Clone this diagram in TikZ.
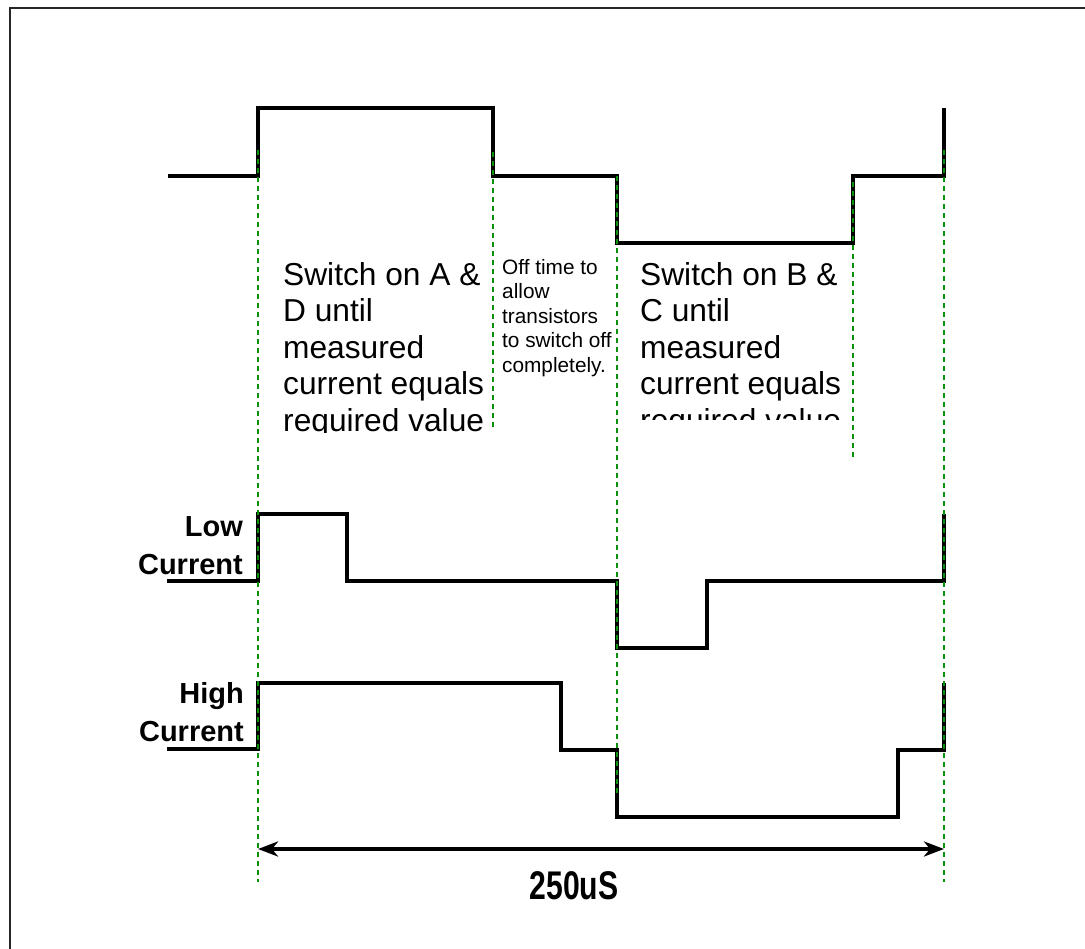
\documentclass[tikz,border=0pt]{standalone}
\usepackage{fontspec}
\setmainfont{Liberation Sans}
\usetikzlibrary{arrows.meta}
\definecolor{guidegreen}{RGB}{10,145,10}
\tikzset{
  wave/.style={line width=3.6pt, line join=miter, line cap=butt},
  wavethin/.style={line width=3.2pt, line join=miter, line cap=butt},
  guide/.style={guidegreen, line width=1.6pt, dash pattern=on 5pt off 4pt},
  bigtext/.style={inner sep=0pt, anchor=north west, align=left, font=\fontsize{31.7}{36.6}\selectfont},
  smalltext/.style={inner sep=0pt, anchor=north west, align=left, font=\fontsize{20.8}{24.5}\selectfont},
  sidelabel/.style={inner sep=0pt, anchor=north east, align=right, font=\fontsize{29}{38.5}\selectfont\bfseries},
  span/.style={line width=3.6pt, {Stealth[length=20pt,width=15pt,inset=6pt]}-{Stealth[length=20pt,width=15pt,inset=6pt]}}
}
\begin{document}
\begin{tikzpicture}[x=1pt,y=-1pt]
\useasboundingbox (0,0) rectangle (1085,949);
% frame (only top and left edges fall inside the picture)
\draw[line width=2pt, black!85] (10,8) rectangle (1120,990);

% top waveform
\draw[wave] (168,176) -- (258,176) -- (258,108) -- (493,108) -- (493,176) -- (617,176)
  -- (617,243) -- (853,243) -- (853,176) -- (944,176) -- (944,108);
% low current
\draw[wavethin] (167,581) -- (258,581) -- (258,514) -- (347,514) -- (347,581) -- (617,581)
  -- (617,648) -- (707,648) -- (707,581) -- (944,581) -- (944,514);
% high current
\draw[wavethin] (167,749) -- (258,749) -- (258,683) -- (561,683) -- (561,750) -- (617,750)
  -- (617,817) -- (898,817) -- (898,750) -- (944,750) -- (944,683);

% guide lines
\coordinate (g1t) at (258,150); \coordinate (g1b) at (258,882);
\coordinate (g2t) at (493,152); \coordinate (g2b) at (493,430);
\coordinate (g3t) at (617,176); \coordinate (g3b) at (617,795);
\coordinate (g4t) at (853,182); \coordinate (g4b) at (853,460);
\coordinate (g5t) at (944,150); \coordinate (g5b) at (944,882);
\draw[guide] (g1t) -- (g1b);
\draw[guide] (g2t) -- (g2b);
\draw[guide] (g3t) -- (g3b);
\draw[guide] (g4t) -- (g4b);
\draw[guide] (g5t) -- (g5b);

% texts
\begin{scope}
\clip (270,250) rectangle (491,433);
\node[bigtext] (ad) at (283,262) {Switch on A \&\\D until\\measured\\current equals\\required value};
\end{scope}
\begin{scope}
\clip (630,250) rectangle (851,420);
\node[bigtext] (bc) at (640,262) {Switch on B \&\\C until\\measured\\current equals\\required value};
\end{scope}
\node[smalltext] (off) at (502,259) {Off time to\\allow\\transistors\\to switch off\\completely.};

\node[sidelabel] (low) at (243,516) {Low\\Current};
\node[sidelabel] (high) at (244,682) {High\\Current};

% period arrow
\coordinate (pa) at (258,849);
\coordinate (pb) at (944,849);
\draw[span] (pa) -- (pb);
\node[inner sep=0pt, font=\fontsize{29}{34}\selectfont\bfseries] (per) at (574,886) {\scalebox{1.04}[1.38]{250uS}};
\end{tikzpicture}
\end{document}
